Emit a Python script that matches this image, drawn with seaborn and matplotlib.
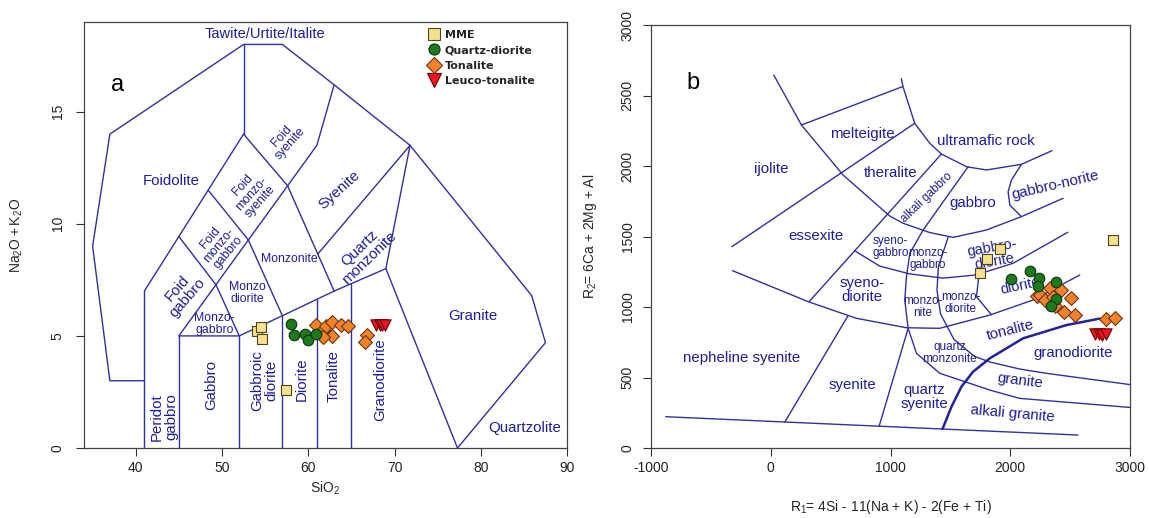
import matplotlib
matplotlib.use('Agg')
import matplotlib.pyplot as plt
from matplotlib.lines import Line2D
import seaborn as sns
import pandas as pd

sns.set_style('ticks')
plt.rcParams['font.family'] = ['Liberation Sans Narrow', 'Liberation Sans', 'DejaVu Sans']
plt.rcParams['axes.unicode_minus'] = False

# ---------------- data: panel a (TAS) ----------------
tas_mme_sio2 = [54.0, 54.5, 54.6, 57.4]
tas_mme_alk = [5.2, 5.4, 4.85, 2.6]
tas_qd_sio2 = [58.0, 58.4, 59.6, 60.0, 60.9]
tas_qd_alk = [5.55, 5.05, 5.1, 4.8, 5.1]
tas_ton_sio2 = [60.9, 61.7, 62.1, 62.7, 62.7, 61.7, 63.8, 64.6, 66.8, 66.6]
tas_ton_alk = [5.5, 5.25, 5.45, 5.6, 5.0, 4.95, 5.5, 5.45, 5.05, 4.75]
tas_leu_sio2 = [67.9, 68.3, 68.6, 68.9]
tas_leu_alk = [5.5, 5.5, 5.5, 5.5]

# ---------------- data: panel b (R1-R2) ----------------
r_mme_r1 = [2860, 1918, 1805, 1748]
r_mme_r2 = [1475, 1410, 1342, 1243]
r_qd_r1 = [2005, 2168, 2243, 2235, 2378, 2378, 2344]
r_qd_r2 = [1200, 1253, 1203, 1150, 1180, 1054, 1010]
r_ton_r1 = [2225, 2245, 2290, 2330, 2360, 2372, 2427, 2448, 2508, 2539, 2800, 2873]
r_ton_r2 = [1075, 1085, 1050, 1132, 1073, 1005, 1118, 967, 1061, 943, 917, 925]
r_leu_r1 = [2710, 2740, 2770, 2800]
r_leu_r2 = [810, 810, 805, 810]

group_names = ['MME', 'Quartz-diorite', 'Tonalite', 'Leuco-tonalite']

# ---------------- classification template: TAS (Middlemost plutonic) ----------------
tas_lines = [
    [(41, 3), (37, 3), (35, 9), (37, 14), (52.5, 18), (57, 18), (63, 16.2), (71.8, 13.5),
     (85.9, 6.8), (87.5, 4.7), (77.3, 0)],
    [(41, 0), (41, 7)],
    [(45, 0), (45, 5)],
    [(41, 7), (52.5, 14)],
    [(52.5, 14), (52.5, 18)],
    [(52.5, 14), (57.6, 11.7), (63, 7)],
    [(45, 5), (61, 13.5), (63, 16.2)],
    [(45, 9.43), (49.3, 7.28)],
    [(48.4, 11.5), (53.05, 9.28)],
    [(49.3, 7.28), (52, 5)],
    [(53.05, 9.28), (57, 5.9)],
    [(45, 5), (52, 5), (57, 5.9), (63, 7), (69, 8)],
    [(52, 0), (52, 5)],
    [(57, 0), (57, 5.9)],
    [(61, 0), (61, 6.63)],
    [(65, 0), (65, 7.33)],
    [(61.1, 8.65), (71.8, 13.5)],
    [(69, 8), (71.8, 13.5)],
    [(69, 8), (77.3, 0)],
]
tas_labels = [
    ("Tawite/Urtite/Italite", 55.0, 18.46, 0, 10.5),
    ("Foidolite", 44.1, 11.9, 0, 10.8),
    ("Foid\nsyenite", 57.4, 13.75, 48, 8.8),
    ("Foid\nmonzo-\nsyenite", 53.4, 11.35, 48, 8.8),
    ("Foid\nmonzo-\ngabbro", 49.7, 9.05, 50, 8.8),
    ("Foid\ngabbro", 45.4, 6.9, 49, 10.8),
    ("Syenite", 63.6, 11.5, 42, 10.8),
    ("Monzonite", 57.85, 8.42, 0, 8.8),
    ("Quartz\nmonzonite", 66.5, 8.7, 44, 10.8),
    ("Monzo\ndiorite", 52.9, 6.9, 0, 8.8),
    ("Monzo-\ngabbro", 49.1, 5.55, 0, 8.8),
    ("Granite", 79.1, 5.9, 0, 10.8),
    ("Quartzolite", 85.1, 0.88, 0, 10.8),
    ("Peridot\ngabbro", 43.3, 1.4, 90, 10.8),
    ("Gabbro", 48.7, 2.8, 90, 10.8),
    ("Gabbroic\ndiorite", 54.9, 3.0, 90, 10.8),
    ("Diorite", 59.3, 3.05, 90, 10.8),
    ("Tonalite", 62.95, 3.2, 90, 10.8),
    ("Granodiorite", 68.3, 3.05, 90, 10.8),
]

# ---------------- classification template: R1-R2 (De la Roche) ----------------
r_lines = [
    [(-877, 222), (2566, 92)],
    [(25, 2645), (256, 2291), (604, 1936), (994, 1645), (1105, 1594), (1328, 1528),
     (1522, 1494), (1800, 1546), (2093, 1641), (2441, 1771)],
    [(1090, 2620), (1105, 2560), (1202, 2303), (1328, 2161), (1425, 2085), (1634, 1995),
     (1801, 1972), (2093, 2012), (2349, 2109)],
    [(256, 2291), (1100, 2563)],
    [(-325, 1428), (1202, 2303)],
    [(1425, 2085), (320, 1038)],
    [(1648, 1995), (1272, 1546), (1161, 1381), (1133, 1215), (1119, 1050), (1147, 849),
     (1217, 671), (1411, 530), (1829, 411), (2079, 352), (2998, 288)],
    [(1481, 1494), (1400, 1290), (1388, 1120), (1418, 950), (1530, 770), (1700, 650),
     (1830, 610), (2080, 560), (2300, 530), (2998, 450)],
    [(701, 1399), (910, 1290), (1160, 1235), (1440, 1205), (1710, 1227), (2023, 1310),
     (2480, 1530)],
    [(-320, 1258), (312, 1038), (715, 920), (1133, 853), (1411, 849), (1829, 943),
     (2191, 1050), (2580, 1227)],
    [(1740, 1235), (1717, 1073), (1843, 945)],
    [(646, 940), (117, 184)],
    [(1147, 849), (905, 155)],
    [(2093, 2012), (2010, 1901), (1982, 1818), (1996, 1723), (2093, 1641)],
]
r_thick_line = [(1434, 135), (1509, 293), (1592, 435), (1689, 541), (1829, 636),
                (2107, 778), (2469, 872), (2747, 918)]
r_labels = [
    ("melteigite", 765, 2224, 0, 10.8),
    ("ultramafic rock", 1793, 2177, 0, 10.8),
    ("ijolite", 0, 1976, 0, 10.8),
    ("theralite", 1002, 1953, 0, 10.8),
    ("alkali gabbro", 1305, 1778, 44, 8.5),
    ("gabbro-norite", 2380, 1865, 13, 10.8),
    ("gabbro", 1690, 1735, 0, 10.8),
    ("essexite", 381, 1506, 0, 10.8),
    ("syeno-\ngabbro", 999, 1428, 0, 8.5),
    ("monzo-\ngabbro", 1314, 1340, 0, 8.5),
    ("gabbro-\ndiorite", 1857, 1369, 10, 10.5),
    ("syeno-\ndiorite", 765, 1121, 0, 10.8),
    ("diorite", 2079, 1149, 12, 10.5),
    ("monzo-\nnite", 1272, 1002, 0, 8.5),
    ("monzo-\ndiorite", 1584, 1026, 0, 8.5),
    ("tonalite", 2001, 837, 14, 10.8),
    ("quartz\nmonzonite", 1495, 676, 0, 8.5),
    ("granodiorite", 2525, 676, 0, 10.8),
    ("nepheline syenite", -245, 636, 0, 10.8),
    ("syenite", 682, 447, 0, 10.8),
    ("granite", 2079, 478, -7, 10.8),
    ("quartz\nsyenite", 1281, 360, 0, 10.8),
    ("alkali granite", 2023, 246, -5, 10.8),
]

LINE_C = '#3030A0'
TEXT_C = '#1E1E96'
styles = {
    'MME': dict(marker='s', color='#F8E08E', edgecolor='#4a4420', s=58),
    'Quartz-diorite': dict(marker='o', color='#1B7A1B', edgecolor='#0a330a', s=58),
    'Tonalite': dict(marker='D', color='#F5822A', edgecolor='#6a3510', s=50),
    'Leuco-tonalite': dict(marker='v', color='#EE1520', edgecolor='#6a0000', s=66),
}
LABEL_FONT = ['Liberation Sans', 'DejaVu Sans']
AX_FONT = ['Liberation Sans Narrow', 'Liberation Sans', 'DejaVu Sans']

fig = plt.figure(figsize=(11.49, 5.18), dpi=100)
ax1 = fig.add_axes([0.0731, 0.1351, 0.4204, 0.8224])
ax2 = fig.add_axes([0.5666, 0.1351, 0.4169, 0.8166])


def draw_points(ax, xs, ys):
    order = ['MME', 'Tonalite', 'Quartz-diorite', 'Leuco-tonalite']
    for name in order:
        x, y = xs[name], ys[name]
        st = styles[name]
        df = pd.DataFrame({'x': x, 'y': y})
        sns.scatterplot(data=df, x='x', y='y', ax=ax, marker=st['marker'], color=st['color'],
                        edgecolor=st['edgecolor'], s=st['s'], linewidth=0.8, legend=False,
                        zorder=5)


def style_axes(ax):
    for sp in ax.spines.values():
        sp.set_visible(True)
        sp.set_color('#444444')
        sp.set_linewidth(0.9)
    ax.tick_params(direction='out', length=5.8, width=0.8, color='#333333',
                   labelsize=10, labelcolor='#222222')
    ax.tick_params(axis='y', labelrotation=90)
    for lab in ax.get_yticklabels():
        lab.set_va('center')
        lab.set_family(AX_FONT)
    for lab in ax.get_xticklabels():
        lab.set_family(AX_FONT)


# ----- panel a -----
for seg in tas_lines:
    xs = [p[0] for p in seg]
    ys = [p[1] for p in seg]
    ax1.plot(xs, ys, color=LINE_C, lw=1.0, zorder=2)
for t, x, y, r, fs in tas_labels:
    ax1.text(x, y, t, rotation=r, fontsize=fs, color=TEXT_C, ha='center', va='center',
             family=LABEL_FONT, linespacing=1.0, rotation_mode='anchor', zorder=3)
ax1.text(37.9, 16.2, 'a', fontsize=17, color='black', ha='center', va='center', family=LABEL_FONT)

draw_points(ax1,
            {'MME': tas_mme_sio2, 'Quartz-diorite': tas_qd_sio2, 'Tonalite': tas_ton_sio2,
             'Leuco-tonalite': tas_leu_sio2},
            {'MME': tas_mme_alk, 'Quartz-diorite': tas_qd_alk, 'Tonalite': tas_ton_alk,
             'Leuco-tonalite': tas_leu_alk})
ax1.set_xlim(34, 90)
ax1.set_ylim(0, 19)
ax1.set_xticks([40, 50, 60, 70, 80, 90])
ax1.set_yticks([0, 5, 10, 15])
ax1.set_xlabel(r'$\mathregular{SiO_2}$', fontsize=10, family=AX_FONT)
ax1.set_ylabel(r'$\mathregular{Na_2O+K_2O}$', fontsize=10, family=AX_FONT)
style_axes(ax1)
ax1.tick_params(axis='y', pad=8)
ax1.xaxis.set_label_coords(0.5, -0.075)
ax1.yaxis.set_label_coords(-0.122, 0.5)

handles = [Line2D([], [], linestyle='none', marker=styles[n]['marker'],
                  markerfacecolor=styles[n]['color'], markeredgecolor=styles[n]['edgecolor'],
                  markeredgewidth=0.8, markersize=ms)
           for n, ms in zip(group_names, [8, 8, 8, 9.5])]
leg = ax1.legend(handles, group_names, loc='upper left', bbox_to_anchor=(0.70, 0.998),
                 frameon=False, handlelength=1.0, handletextpad=0.45, labelspacing=0.5,
                 borderaxespad=0.2, prop={'family': 'DejaVu Sans', 'weight': 'bold', 'size': 8})

# ----- panel b -----
for seg in r_lines:
    xs = [p[0] for p in seg]
    ys = [p[1] for p in seg]
    ax2.plot(xs, ys, color=LINE_C, lw=1.0, zorder=2)
ax2.plot([p[0] for p in r_thick_line], [p[1] for p in r_thick_line], color='#22229A', lw=1.8,
         zorder=2)
for t, x, y, r, fs in r_labels:
    ax2.text(x, y, t, rotation=r, fontsize=fs, color=TEXT_C, ha='center', va='center',
             family=LABEL_FONT, linespacing=1.0, rotation_mode='anchor', zorder=3)
ax2.text(-650, 2590, 'b', fontsize=17, color='black', ha='center', va='center', family=LABEL_FONT)

draw_points(ax2,
            {'MME': r_mme_r1, 'Quartz-diorite': r_qd_r1, 'Tonalite': r_ton_r1,
             'Leuco-tonalite': r_leu_r1},
            {'MME': r_mme_r2, 'Quartz-diorite': r_qd_r2, 'Tonalite': r_ton_r2,
             'Leuco-tonalite': r_leu_r2})
ax2.set_xlim(-1000, 3000)
ax2.set_ylim(0, 3000)
ax2.set_xticks([-1000, 0, 1000, 2000, 3000])
ax2.set_yticks([0, 500, 1000, 1500, 2000, 2500, 3000])
ax2.set_xlabel(r'$\mathregular{R_1}$= 4Si - 11(Na + K) - 2(Fe + Ti)', fontsize=10, family=AX_FONT)
ax2.set_ylabel(r'$\mathregular{R_2}$= 6Ca + 2Mg + Al', fontsize=10, family=AX_FONT)
style_axes(ax2)
ax2.tick_params(axis='y', pad=6)
ax2.xaxis.set_label_coords(0.5, -0.118)
ax2.yaxis.set_label_coords(-0.108, 0.5)

fig.savefig('out.png', dpi=100, facecolor='white')
